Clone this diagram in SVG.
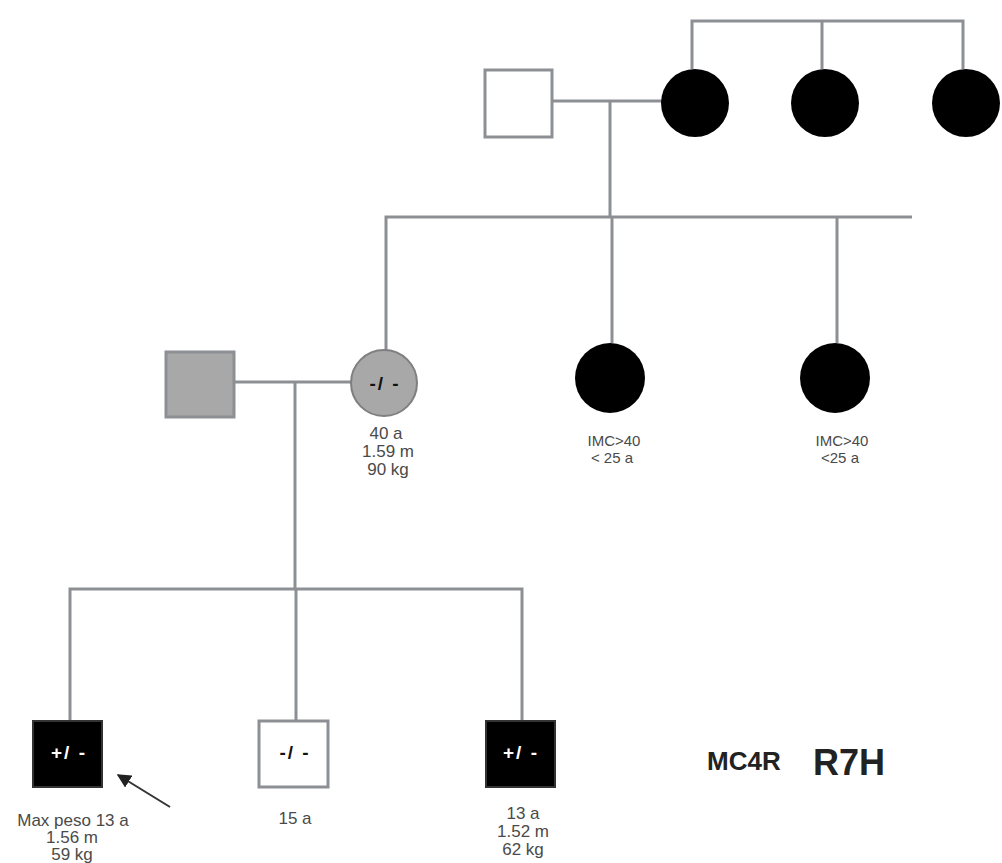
<svg xmlns="http://www.w3.org/2000/svg" width="1002" height="863" viewBox="0 0 1002 863">
<defs>
<style>
.ln{stroke:#8c8f93;stroke-width:3;fill:none}
.sq{stroke:#8c8f93;stroke-width:3}
.lbl{font-family:"Liberation Sans",Arial,sans-serif;font-size:17px;fill:#4a4a4a;text-anchor:middle}
.sm{font-size:15px}
.gen{font-family:"Liberation Sans",Arial,sans-serif;font-size:19px;font-weight:bold;letter-spacing:2px;text-anchor:middle}
.big{font-family:"Liberation Sans",Arial,sans-serif;font-weight:bold;fill:#222}
</style>
<marker id="ah" viewBox="0 0 10 10" refX="9" refY="5" markerWidth="7" markerHeight="7" orient="auto">
<path d="M0,0 L10,5 L0,10 z" fill="#222"/>
</marker>
</defs>
<rect width="1002" height="863" fill="#fff"/>
<g id="connectors">
<path class="ln" d="M692,69 V21 H963 V69 M822,21 V69"/>
<path class="ln" d="M552,101 H662 M610,101 V217"/>
<path class="ln" d="M386,351 V217 H912 M612,217 V343 M837,217 V343"/>
<path class="ln" d="M234,382 H351 M295,382 V589"/>
<path class="ln" d="M70,720 V589 H522 V720 M296,589 V720"/>
<line x1="170" y1="807" x2="118" y2="775" stroke="#333" stroke-width="2" marker-end="url(#ah)"/>
</g>
<g id="grandfather"><rect class="sq" x="485" y="70" width="67" height="67" fill="#fff"/></g>
<g id="grandmother"><circle cx="695" cy="103" r="34" fill="#000"/></g>
<g id="grandmother-sister1"><circle cx="825" cy="103" r="34" fill="#000"/></g>
<g id="grandmother-sister2"><circle cx="966" cy="103" r="34" fill="#000"/></g>
<g id="father"><rect class="sq" x="166" y="352" width="68" height="65" fill="#a8a8a8" stroke="#888"/></g>
<g id="mother">
<circle cx="384" cy="383" r="33" fill="#a8a8a8" stroke="#7f7f7f" stroke-width="2"/>
<text class="gen" x="385" y="390" fill="#111">-/ -</text>
<text class="lbl" x="386" y="439">40 a</text>
<text class="lbl" x="388" y="457">1.59 m</text>
<text class="lbl" x="388" y="475">90 kg</text>
</g>
<g id="aunt1">
<circle cx="610" cy="378" r="35" fill="#000"/>
<text class="lbl sm" x="614" y="446">IMC&gt;40</text>
<text class="lbl sm" x="612" y="463">&lt; 25 a</text>
</g>
<g id="aunt2">
<circle cx="835" cy="378" r="35" fill="#000"/>
<text class="lbl sm" x="842" y="446">IMC&gt;40</text>
<text class="lbl sm" x="840" y="463">&lt;25 a</text>
</g>
<g id="proband">
<rect x="33" y="721" width="69" height="66" fill="#000" stroke="#333" stroke-width="2"/>
<text class="gen" x="69" y="759" fill="#fff">+/ -</text>
<text class="lbl" x="73" y="826">Max peso 13 a</text>
<text class="lbl" x="72" y="843">1.56 m</text>
<text class="lbl" x="72" y="860">59 kg</text>
</g>
<g id="brother">
<rect class="sq" x="259" y="721" width="69" height="66" fill="#fff"/>
<text class="gen" x="295" y="759" fill="#111">-/ -</text>
<text class="lbl" x="295" y="824">15 a</text>
</g>
<g id="sibling">
<rect x="486" y="721" width="69" height="66" fill="#000" stroke="#333" stroke-width="2"/>
<text class="gen" x="521" y="759" fill="#fff">+/ -</text>
<text class="lbl" x="523" y="819">13 a</text>
<text class="lbl" x="523" y="837">1.52 m</text>
<text class="lbl" x="523" y="855">62 kg</text>
</g>
<g id="title">
<text class="big" x="707" y="770" font-size="26">MC4R</text>
<text class="big" x="813" y="775" font-size="36">R7H</text>
</g>
</svg>
